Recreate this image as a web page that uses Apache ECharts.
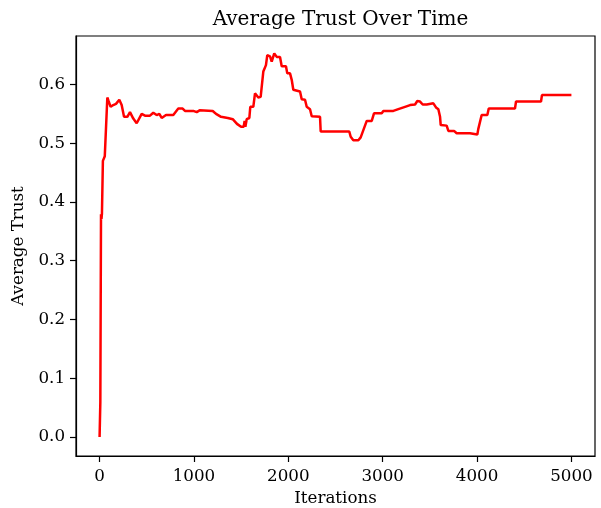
<!DOCTYPE html>
<html>
<head>
<meta charset="utf-8">
<script src="https://cdn.jsdelivr.net/npm/echarts@6/dist/echarts.min.js"></script>
<style>html,body{margin:0;padding:0;background:#fff;}#c{width:601px;height:508px;}</style>
</head>
<body>
<div id="c"></div>
<script>
const iterations = [0,8,15,20,25,35,45,55,75,82,95,117,145,174,209,234,259,294,322,357,393,446,481,534,569,605,633,658,704,781,834,880,905,993,1029,1060,1199,1234,1287,1358,1411,1456,1499,1527,1537,1545,1559,1587,1597,1629,1647,1665,1682,1707,1735,1763,1777,1806,1824,1851,1877,1912,1930,1975,1989,2018,2036,2053,2124,2142,2177,2195,2230,2248,2336,2343,2646,2661,2689,2742,2767,2831,2884,2908,2990,3007,3113,3131,3166,3237,3290,3343,3367,3396,3424,3467,3484,3537,3565,3590,3608,3615,3678,3696,3756,3784,3925,3933,4003,4013,4031,4049,4109,4124,4402,4413,4678,4688,5000];
const avgTrust = [0.000,0.060,0.379,0.371,0.380,0.470,0.472,0.478,0.478,0.578,0.572,0.562,0.565,0.567,0.574,0.565,0.545,0.545,0.553,0.542,0.534,0.550,0.547,0.547,0.552,0.548,0.550,0.543,0.548,0.548,0.559,0.559,0.555,0.555,0.553,0.556,0.555,0.550,0.545,0.543,0.541,0.533,0.528,0.528,0.538,0.528,0.541,0.543,0.562,0.562,0.585,0.582,0.578,0.579,0.622,0.633,0.650,0.648,0.639,0.653,0.647,0.647,0.631,0.631,0.619,0.619,0.608,0.591,0.588,0.575,0.574,0.562,0.558,0.546,0.545,0.520,0.520,0.511,0.505,0.505,0.510,0.538,0.538,0.551,0.551,0.555,0.555,0.554,0.558,0.562,0.565,0.566,0.572,0.571,0.566,0.566,0.569,0.568,0.561,0.558,0.545,0.531,0.530,0.521,0.521,0.517,0.517,0.515,0.515,0.524,0.526,0.548,0.548,0.559,0.559,0.571,0.571,0.582,0.582];
const xTicks = [0,1000,2000,3000,4000,5000];
const yTicks = [0.0,0.1,0.2,0.3,0.4,0.5,0.6];

const font = 'DejaVu Serif';
const chart = echarts.init(document.getElementById('c'), null, {renderer:'canvas'});
chart.setOption({
  animation: false,
  backgroundColor: '#fff',
  title: {
    text: 'Average Trust Over Time',
    left: 335.5, top: 5, textAlign: 'center',
    textStyle: {fontFamily: font, fontSize: 20, fontWeight: 'normal', color: '#000'}
  },
  grid: {left: 76, right: 6, top: 36, bottom: 52, outerBoundsMode: 'none', containLabel: false, show: true, borderColor: '#000', borderWidth: 1.2, backgroundColor: 'transparent'},
  xAxis: {
    type: 'value', min: -250, max: 5250,
    name: 'Iterations', nameLocation: 'middle', nameGap: 33,
    nameTextStyle: {fontFamily: font, fontSize: 16.7, color: '#000'},
    axisLine: {show: true, onZero: false, lineStyle: {color: '#000', width: 1.2}},
    axisTick: {show: true, inside: false, length: 6, lineStyle: {color: '#000', width: 1.2}, customValues: xTicks},
    axisLabel: {show: true, margin: 12, fontFamily: font, fontSize: 16.7, color: '#000', customValues: xTicks, formatter: v => String(v)},
    splitLine: {show: false}
  },
  yAxis: {
    type: 'value', min: -0.0325, max: 0.6826,
    name: 'Average Trust', nameLocation: 'middle', nameGap: 48,
    nameTextStyle: {fontFamily: font, fontSize: 16.7, color: '#000'},
    axisLine: {show: true, onZero: false, lineStyle: {color: '#000', width: 1.2}},
    axisTick: {show: true, inside: false, length: 6, lineStyle: {color: '#000', width: 1.2}, customValues: yTicks},
    axisLabel: {show: true, margin: 11, fontFamily: font, fontSize: 16.7, color: '#000', customValues: yTicks, formatter: v => v.toFixed(1)},
    splitLine: {show: false}
  },
  series: [{
    type: 'line',
    data: iterations.map((x, i) => [x, avgTrust[i]]),
    showSymbol: false, symbol: 'none',
    lineStyle: {color: '#ff0000', width: 2.5},
    itemStyle: {color: '#ff0000'}
  }]
});
</script>
</body>
</html>
